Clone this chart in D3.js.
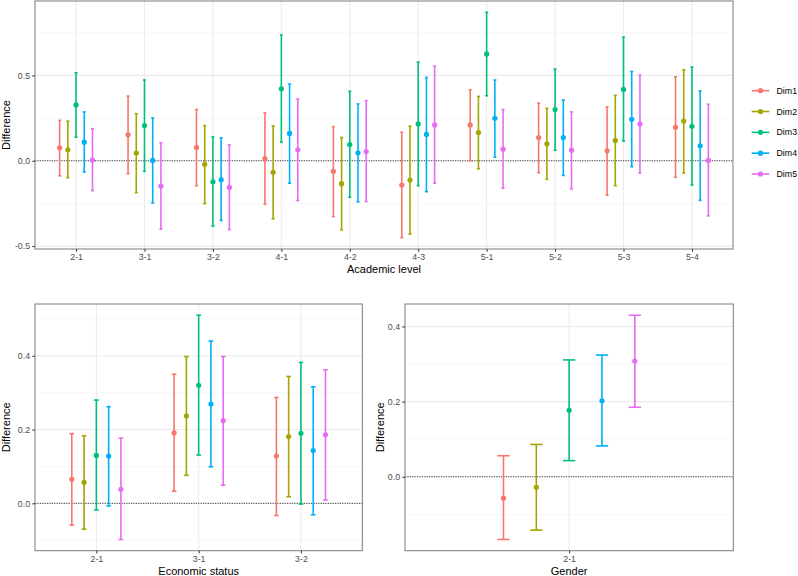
<!DOCTYPE html>
<html><head><meta charset="utf-8">
<script src="https://cdn.jsdelivr.net/npm/d3@7"></script>
<style>body{margin:0;background:#fff}svg{display:block}</style>
</head><body>
<svg id="chart" width="798" height="576"></svg>
<script>
// ---------------- DATA ----------------
const dims = ["Dim1", "Dim2", "Dim3", "Dim4", "Dim5"];
const dimColors = ["#F8766D", "#A3A500", "#00BF7D", "#00B0F6", "#E76BF3"];

const academicLevels = ["2-1", "3-1", "3-2", "4-1", "4-2", "4-3", "5-1", "5-2", "5-3", "5-4"];
// rows = categories, columns = Dim1..Dim5
const academicEst = [
  [0.076, 0.064, 0.327, 0.109, 0.004],
  [0.152, 0.045, 0.206, 0.002, -0.148],
  [0.078, -0.021, -0.123, -0.111, -0.156],
  [0.012, -0.068, 0.422, 0.160, 0.064],
  [-0.062, -0.134, 0.095, 0.047, 0.054],
  [-0.142, -0.113, 0.216, 0.154, 0.210],
  [0.210, 0.165, 0.626, 0.249, 0.068],
  [0.136, 0.099, 0.300, 0.136, 0.062],
  [0.058, 0.119, 0.418, 0.243, 0.216],
  [0.196, 0.233, 0.202, 0.088, 0.002]
];
const academicLower = [
  [-0.088, -0.099, 0.138, -0.066, -0.175],
  [-0.076, -0.187, -0.062, -0.247, -0.401],
  [-0.146, -0.251, -0.383, -0.350, -0.403],
  [-0.255, -0.340, 0.109, -0.132, -0.233],
  [-0.327, -0.405, -0.214, -0.241, -0.239],
  [-0.451, -0.430, -0.146, -0.181, -0.132],
  [0.000, -0.047, 0.381, 0.021, -0.161],
  [-0.070, -0.109, 0.062, -0.086, -0.165],
  [-0.202, -0.146, 0.115, -0.035, -0.072],
  [-0.097, -0.072, -0.142, -0.232, -0.323]
];
const academicUpper = [
  [0.237, 0.232, 0.516, 0.286, 0.187],
  [0.379, 0.276, 0.473, 0.251, 0.105],
  [0.300, 0.206, 0.140, 0.134, 0.093],
  [0.280, 0.204, 0.737, 0.449, 0.362],
  [0.200, 0.136, 0.407, 0.333, 0.352],
  [0.167, 0.202, 0.578, 0.488, 0.554],
  [0.416, 0.377, 0.870, 0.473, 0.300],
  [0.337, 0.307, 0.537, 0.356, 0.286],
  [0.315, 0.383, 0.724, 0.523, 0.502],
  [0.492, 0.533, 0.549, 0.409, 0.331]
];
const academicTicks = [-0.5, 0, 0.5];
const academicTickLabels = ["-0.5", "0.0", "0.5"];

const economicLevels = ["2-1", "3-1", "3-2"];
const economicEst = [
  [0.065, 0.057, 0.130, 0.128, 0.038],
  [0.191, 0.237, 0.320, 0.269, 0.224],
  [0.128, 0.181, 0.190, 0.143, 0.186]
];
const economicLower = [
  [-0.059, -0.070, -0.018, -0.007, -0.098],
  [0.033, 0.076, 0.131, 0.099, 0.049],
  [-0.033, 0.018, -0.002, -0.031, 0.009]
];
const economicUpper = [
  [0.189, 0.183, 0.280, 0.262, 0.177],
  [0.350, 0.398, 0.510, 0.440, 0.398],
  [0.287, 0.344, 0.382, 0.316, 0.362]
];
const economicTicks = [0, 0.2, 0.4];
const economicTickLabels = ["0.0", "0.2", "0.4"];

const genderLevels = ["2-1"];
const genderEst = [[-0.057, -0.028, 0.177, 0.202, 0.308]];
const genderLower = [[-0.167, -0.142, 0.043, 0.082, 0.185]];
const genderUpper = [[0.056, 0.086, 0.311, 0.324, 0.430]];
const genderTicks = [0, 0.2, 0.4];
const genderTickLabels = ["0.0", "0.2", "0.4"];

// ---------------- DRAWING ----------------
const FONT = "'Liberation Sans', Arial, Helvetica, sans-serif";
const svg = d3.select("#chart").style("font-family", FONT);

function panel(opt) {
  const {left, right, top, bottom, cats, est, lo, hi, ticks, tickLabels, xTitle, yTitleX, xTitleY, xTickY} = opt;
  const g = svg.append("g");
  // y domain like ggplot: data range expanded 5%
  const all = lo.flat().concat(hi.flat()).concat([0]);
  const mn = d3.min(all), mx = d3.max(all), pad = (mx - mn) * 0.05;
  const y = d3.scaleLinear().domain([mn - pad, mx + pad]).range([bottom, top]);
  const x = d3.scalePoint().domain(cats).range([left, right]).padding(0.6);
  const step = x.step();
  const dodge = d3.scalePoint().domain(dims).range([-0.24 * step, 0.24 * step]);
  const capHalf = 0.0225 * step;

  // minor grid
  const tstep = ticks[1] - ticks[0];
  const minor = [];
  for (let v = ticks[0] - tstep / 2; v <= y.domain()[1]; v += tstep) {
    if (v >= y.domain()[0]) minor.push(v);
  }
  g.append("g").selectAll("line").data(minor).join("line")
    .attr("x1", left).attr("x2", right)
    .attr("y1", d => y(d)).attr("y2", d => y(d))
    .attr("stroke", "#F2F2F2").attr("stroke-width", 0.6);
  // major grid
  g.append("g").selectAll("line").data(ticks).join("line")
    .attr("x1", left).attr("x2", right)
    .attr("y1", d => y(d)).attr("y2", d => y(d))
    .attr("stroke", "#EBEBEB").attr("stroke-width", 1.1);
  g.append("g").selectAll("line").data(cats).join("line")
    .attr("x1", d => x(d)).attr("x2", d => x(d))
    .attr("y1", top).attr("y2", bottom)
    .attr("stroke", "#EBEBEB").attr("stroke-width", 1.1);

  // zero line
  g.append("line").attr("x1", left).attr("x2", right)
    .attr("y1", y(0)).attr("y2", y(0))
    .attr("stroke", "#444").attr("stroke-width", 1)
    .attr("stroke-dasharray", "1.2,1.2");

  // error bars
  const rows = [];
  cats.forEach((c, ci) => dims.forEach((d, di) => {
    rows.push({c, d, di, e: est[ci][di], l: lo[ci][di], h: hi[ci][di]});
  }));
  const eg = g.append("g").selectAll("g").data(rows).join("g")
    .attr("stroke", r => dimColors[r.di]).attr("stroke-width", 1.6);
  eg.append("line")
    .attr("x1", r => x(r.c) + dodge(r.d)).attr("x2", r => x(r.c) + dodge(r.d))
    .attr("y1", r => y(r.l)).attr("y2", r => y(r.h));
  eg.append("line")
    .attr("x1", r => x(r.c) + dodge(r.d) - capHalf).attr("x2", r => x(r.c) + dodge(r.d) + capHalf)
    .attr("y1", r => y(r.h)).attr("y2", r => y(r.h));
  eg.append("line")
    .attr("x1", r => x(r.c) + dodge(r.d) - capHalf).attr("x2", r => x(r.c) + dodge(r.d) + capHalf)
    .attr("y1", r => y(r.l)).attr("y2", r => y(r.l));
  g.append("g").selectAll("circle").data(rows).join("circle")
    .attr("cx", r => x(r.c) + dodge(r.d)).attr("cy", r => y(r.e))
    .attr("r", 2.6).attr("fill", r => dimColors[r.di]);

  // border
  g.append("rect").attr("x", left).attr("y", top)
    .attr("width", right - left).attr("height", bottom - top)
    .attr("fill", "none").attr("stroke", "#7a7a7a").attr("stroke-width", 1);

  // axes
  const ya = g.append("g").attr("transform", `translate(${left},0)`)
    .call(d3.axisLeft(y).tickValues(ticks).tickFormat((d, i) => tickLabels[i])
      .tickSize(2.75).tickPadding(2.2));
  ya.select(".domain").remove();
  ya.selectAll(".tick line").attr("stroke", "#333");
  ya.selectAll(".tick text").attr("fill", "#4D4D4D").style("font-size", "8.8px").style("font-family", FONT);

  const xa = g.append("g").attr("transform", `translate(0,${bottom})`)
    .call(d3.axisBottom(x).tickSize(2.75).tickPadding(2.2));
  xa.select(".domain").remove();
  xa.selectAll(".tick line").attr("stroke", "#333");
  xa.selectAll(".tick text").attr("fill", "#4D4D4D").style("font-size", "8.8px").style("font-family", FONT);

  // titles
  g.append("text").attr("transform", `translate(${yTitleX},${(top + bottom) / 2}) rotate(-90)`)
    .attr("text-anchor", "middle").style("font-size", "11px").attr("fill", "#000").text("Difference");
  g.append("text").attr("x", (left + right) / 2).attr("y", xTitleY)
    .attr("text-anchor", "middle").style("font-size", "11px").attr("fill", "#000").text(xTitle);
}

panel({left: 35, right: 733, top: 1, bottom: 249, cats: academicLevels,
  est: academicEst, lo: academicLower, hi: academicUpper,
  ticks: academicTicks, tickLabels: academicTickLabels,
  xTitle: "Academic level", yTitleX: 9.5, xTitleY: 273});

panel({left: 35, right: 362.3, top: 304, bottom: 550.7, cats: economicLevels,
  est: economicEst, lo: economicLower, hi: economicUpper,
  ticks: economicTicks, tickLabels: economicTickLabels,
  xTitle: "Economic status", yTitleX: 9.5, xTitleY: 575});

panel({left: 405, right: 733.3, top: 304, bottom: 550.7, cats: genderLevels,
  est: genderEst, lo: genderLower, hi: genderUpper,
  ticks: genderTicks, tickLabels: genderTickLabels,
  xTitle: "Gender", yTitleX: 383.5, xTitleY: 575});

// legend
const leg = svg.append("g");
const ly = d3.scalePoint().domain(dims).range([90.7, 174]);
const li = leg.selectAll("g").data(dims).join("g")
  .attr("transform", d => `translate(0,${ly(d)})`);
li.append("line").attr("x1", 751.7).attr("x2", 769.3).attr("y1", 0).attr("y2", 0)
  .attr("stroke", (d, i) => dimColors[i]).attr("stroke-width", 1.6);
li.append("circle").attr("cx", 760.5).attr("cy", 0).attr("r", 2.6)
  .attr("fill", (d, i) => dimColors[i]);
li.append("text").attr("x", 776.5).attr("y", 0).attr("dy", "0.35em")
  .style("font-size", "8.8px").attr("fill", "#000").text(d => d);
</script>
</body></html>
